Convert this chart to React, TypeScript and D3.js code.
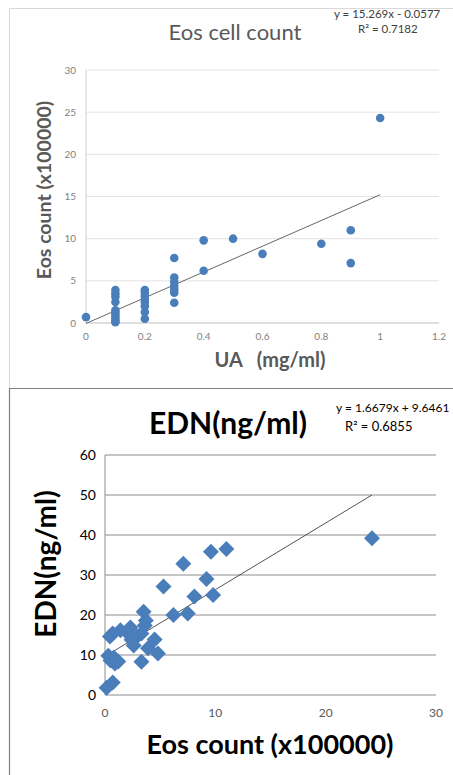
import React from "react";
import { scaleLinear, line } from "d3";

// top chart: UA dose vs eos count
const uaDose = [
  0,
  0.1, 0.1, 0.1, 0.1, 0.1, 0.1, 0.1, 0.1, 0.1, 0.1,
  0.2, 0.2, 0.2, 0.2, 0.2, 0.2, 0.2, 0.2,
  0.3, 0.3, 0.3, 0.3, 0.3, 0.3, 0.3,
  0.4, 0.4, 0.5, 0.6, 0.8, 0.9, 0.9, 1,
];
const eosCount = [
  0.7,
  3.9, 3.5, 3.1, 2.5, 1.5, 1.2, 0.9, 0.6, 0.3, 0.1,
  3.9, 3.6, 3.2, 2.8, 2.5, 2.0, 1.3, 0.5,
  7.7, 5.4, 4.9, 4.4, 4.0, 3.6, 2.4,
  9.8, 6.2, 10.0, 8.2, 9.4, 11.0, 7.1, 24.3,
];
const uaTicks = [0, 0.2, 0.4, 0.6, 0.8, 1, 1.2];
const eosTicks = [0, 5, 10, 15, 20, 25, 30];
const fit1 = { slope: 15.269, icpt: -0.0577 };

// bottom chart: eos count vs EDN
const eosX = [
  0.15, 0.7, 0.3, 0.5, 0.9, 1.2, 0.8, 0.45, 0.7, 1.4, 2.3, 2.0, 2.4, 2.6, 2.9, 3.3,
  3.5, 3.7, 3.6, 3.3, 3.9, 4.5, 4.8, 5.3, 6.2, 7.1, 7.5, 8.1, 9.2, 9.6, 9.8, 11.0, 24.2,
];
const ednY = [
  1.8, 3.1, 9.8, 8.6, 7.9, 8.4, 9.4, 14.6, 15.4, 16.2, 16.9, 15.6, 13.8, 12.4, 14.6, 15.4,
  20.8, 18.6, 17.4, 8.3, 11.7, 13.9, 10.4, 27.1, 20.0, 32.8, 20.4, 24.6, 29.0, 35.8, 25.0, 36.5, 39.2,
];
const eosXTicks = [0, 10, 20, 30];
const ednTicks = [0, 10, 20, 30, 40, 50, 60];
const fit2 = { slope: 1.6679, icpt: 9.6461 };

const font = "Lato, 'Open Sans', sans-serif";

export default function App() {
  const x1 = scaleLinear().domain([0, 1.2]).range([86, 439]);
  const y1 = scaleLinear().domain([0, 30]).range([323, 70]);
  const x2 = scaleLinear().domain([0, 30]).range([105, 436]);
  const y2 = scaleLinear().domain([0, 60]).range([695, 455]);

  const trend1 = line<number>()
    .x((d) => x1(d))
    .y((d) => y1(fit1.slope * d + fit1.icpt));
  const xmin2 = Math.min(...eosX);
  const xmax2 = Math.max(...eosX);
  const trend2 = line<number>()
    .x((d) => x2(d))
    .y((d) => y2(fit2.slope * d + fit2.icpt));

  return (
    <svg
      width={453}
      height={775}
      style={{ position: "absolute", left: 0, top: 0, background: "#fff" }}
      fontFamily={font}
    >
      {/* top chart */}
      <rect x={9.5} y={8.5} width={460} height={380} fill="none" stroke="#d9d9d9" />
      <text x={235} y={40} textAnchor="middle" fontSize={22} fill="#595959">
        Eos cell count
      </text>
      <text x={334} y={18} fontSize={11.5} fill="#404040">
        y = 15.269x - 0.0577
      </text>
      <text x={358} y={33} fontSize={11.5} fill="#404040">
        R² = 0.7182
      </text>
      {eosTicks.map((t) => (
        <g key={"g1" + t}>
          <line x1={86} x2={439} y1={y1(t)} y2={y1(t)} stroke={t === 0 ? "#bfbfbf" : "#e3e3e3"} />
          <text x={76} y={y1(t) + 3.5} textAnchor="end" fontSize={10} fill="#7f7f7f">
            {t}
          </text>
        </g>
      ))}
      <line x1={86} x2={86} y1={70} y2={323} stroke="#d0d0d0" />
      {uaTicks.map((t) => (
        <text key={"xt1" + t} x={x1(t)} y={340} textAnchor="middle" fontSize={10} fill="#7f7f7f">
          {t}
        </text>
      ))}
      <text
        transform="translate(51,190) rotate(-90)"
        textAnchor="middle"
        fontSize={19.5}
        fontWeight="bold"
        fill="#595959"
      >
        Eos count (x100000)
      </text>
      <text x={270} y={367} textAnchor="middle" fontSize={20} fontWeight="bold" fill="#595959" xmlSpace="preserve">
        UA   (mg/ml)
      </text>
      <path d={trend1([0, 1]) || ""} fill="none" stroke="#555" strokeWidth={0.9} />
      {uaDose.map((u, i) => (
        <circle key={"p1" + i} cx={x1(u)} cy={y1(eosCount[i])} r={4.3} fill="#4a7ebb" />
      ))}

      {/* bottom chart */}
      <line x1={9} x2={453} y1={388.5} y2={388.5} stroke="#7f7f7f" strokeWidth={1.2} />
      <line x1={9.5} x2={9.5} y1={388} y2={775} stroke="#7f7f7f" strokeWidth={1.2} />
      <text x={228} y={434} textAnchor="middle" fontSize={30} fontWeight="bold" fill="#000">
        EDN(ng/ml)
      </text>
      <text x={336} y={412} fontSize={12} fill="#000">
        y = 1.6679x + 9.6461
      </text>
      <text x={345} y={431} fontSize={13} fill="#000">
        R² = 0.6855
      </text>
      {ednTicks.map((t) => (
        <g key={"g2" + t}>
          <line x1={105} x2={436} y1={y2(t)} y2={y2(t)} stroke="#8c8c8c" />
          <text x={96} y={y2(t) + 5} textAnchor="end" fontSize={14} fill="#000">
            {t}
          </text>
        </g>
      ))}
      <line x1={105} x2={105} y1={455} y2={695} stroke="#8c8c8c" />
      {eosXTicks.map((t) => (
        <text key={"xt2" + t} x={x2(t)} y={717} textAnchor="middle" fontSize={12} fill="#595959">
          {t}
        </text>
      ))}
      <text
        transform="translate(56,564) rotate(-90)"
        textAnchor="middle"
        fontSize={28}
        fontWeight="bold"
        fill="#000"
      >
        EDN(ng/ml)
      </text>
      <text x={270} y={754} textAnchor="middle" fontSize={27} fontWeight="bold" fill="#000">
        Eos count (x100000)
      </text>
      <path d={trend2([xmin2, xmax2]) || ""} fill="none" stroke="#404040" strokeWidth={0.9} />
      {eosX.map((v, i) => {
        const cx = x2(v);
        const cy = y2(ednY[i]);
        return (
          <path
            key={"p2" + i}
            d={`M${cx},${cy - 8}L${cx + 8},${cy}L${cx},${cy + 8}L${cx - 8},${cy}Z`}
            fill="#4a7ebb"
          />
        );
      })}
    </svg>
  );
}
